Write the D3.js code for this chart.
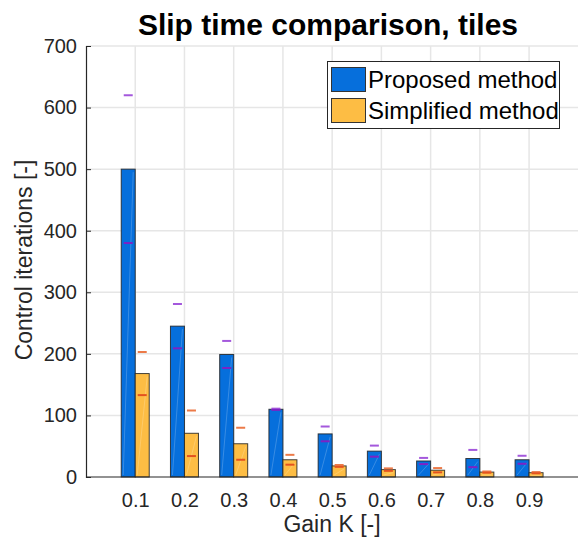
<!DOCTYPE html>
<html>
<head>
<meta charset="utf-8">
<script src="https://cdnjs.cloudflare.com/ajax/libs/d3/7.8.5/d3.min.js"></script>
<style>
  body { margin: 0; background: #fff; }
  svg text { font-family: Arial, "Liberation Sans", Helvetica, sans-serif; }
</style>
</head>
<body>
<script>
// gain values on the x axis
var gains = [0.1, 0.2, 0.3, 0.4, 0.5, 0.6, 0.7, 0.8, 0.9];
var gainLabels = ["0.1", "0.2", "0.3", "0.4", "0.5", "0.6", "0.7", "0.8", "0.9"];
// mean control iterations
var proposed = [500, 245, 199, 110, 70, 42, 26, 30, 28];
var simplified = [168, 71, 54, 28, 18, 12, 11, 8, 7];
// error (half range) drawn as small dashes
var proposedErr = [120, 36, 22, 1, 12, 9, 5, 14, 6.5];
var simplifiedErr = [35, 37, 26, 8, 1.5, 2, 3.5, 1, 1];
var yTicks = [0, 100, 200, 300, 400, 500, 600, 700];
var seriesNames = ["Proposed method", "Simplified method"];

var W = 578, H = 545;
var margin = { top: 46, right: 0, bottom: 68, left: 86 };
var plotW = 578.3 - margin.left, plotH = 477 - margin.top;

var svg = d3.select("body").append("svg")
    .attr("width", W)
    .attr("height", H);

var x = d3.scaleLinear().domain([0, 1]).range([margin.left, margin.left + plotW]);
var y = d3.scaleLinear().domain([0, 700]).range([margin.top + plotH, margin.top]);

var colors = ["#066fdc", "#fdbd44"];
var errColors = [["#a458dc", "#7d22c4"], ["#ec7a48", "#e4521f"]];
var barW = 14;

// grid
var grid = svg.append("g");
grid.selectAll("line.h")
    .data(yTicks.slice(1))
    .enter().append("line")
    .attr("x1", margin.left).attr("x2", W)
    .attr("y1", function(d) { return y(d); })
    .attr("y2", function(d) { return y(d); })
    .attr("stroke", "#e6e6e6").attr("stroke-width", 1.5);
grid.selectAll("line.v")
    .data(gains)
    .enter().append("line")
    .attr("x1", function(d) { return x(d); })
    .attr("x2", function(d) { return x(d); })
    .attr("y1", margin.top).attr("y2", y(0))
    .attr("stroke", "#e6e6e6").attr("stroke-width", 1.5);

// bars
var allSeries = [proposed, simplified];
var allErr = [proposedErr, simplifiedErr];
allSeries.forEach(function(vals, s) {
    var g = svg.append("g");
    var off = s === 0 ? -barW : 0;
    g.selectAll("rect")
        .data(vals)
        .enter().append("rect")
        .attr("x", function(d, i) { return x(gains[i]) + off; })
        .attr("y", function(d) { return y(d); })
        .attr("width", barW)
        .attr("height", function(d) { return y(0) - y(d); })
        .attr("fill", colors[s])
        .attr("stroke", "#222")
        .attr("stroke-width", 1)
        .attr("stroke-opacity", 0.85);
    // faint streaks inside the bars
    g.selectAll("line.streak")
        .data(vals)
        .enter().append("line")
        .attr("x1", function(d, i) { return x(gains[i]) + off + 2; })
        .attr("x2", function(d, i) { return x(gains[i]) + off + barW - 2; })
        .attr("y1", y(0) - 2)
        .attr("y2", function(d) { return y(d) + 3; })
        .attr("stroke", "#fff")
        .attr("stroke-opacity", 0.25)
        .attr("stroke-width", 0.8);
    // error dashes
    [1, -1].forEach(function(sign, k) {
        g.selectAll("line.err" + k)
            .data(vals)
            .enter().append("line")
            .attr("x1", function(d, i) { return x(gains[i]) + off + barW / 2 - 4.5; })
            .attr("x2", function(d, i) { return x(gains[i]) + off + barW / 2 + 4.5; })
            .attr("y1", function(d, i) { return y(d + sign * allErr[s][i]); })
            .attr("y2", function(d, i) { return y(d + sign * allErr[s][i]); })
            .attr("stroke", errColors[s][k])
            .attr("stroke-width", 2);
    });
});

// axes
var yAxis = svg.append("g")
    .attr("transform", "translate(" + margin.left + ",0)")
    .call(d3.axisLeft(y).tickValues(yTicks).tickSize(-5).tickPadding(9));
var xAxis = svg.append("g")
    .attr("transform", "translate(0," + y(0) + ")")
    .call(d3.axisBottom(x).tickValues(gains).tickFormat(function(d, i) { return gainLabels[i]; })
        .tickSize(0).tickPadding(16));
xAxis.select(".domain").attr("d", "M" + margin.left + ",0H" + W);
[yAxis, xAxis].forEach(function(a) {
    a.attr("font-family", null);
    a.select(".domain").attr("stroke", "#262626").attr("stroke-width", 1.2);
    a.selectAll(".tick line").attr("stroke", "#262626");
    a.selectAll("text").attr("font-size", "20px").attr("fill", "#262626");
});

// title and labels
svg.append("text")
    .attr("x", 328).attr("y", 34.5)
    .attr("text-anchor", "middle")
    .attr("font-size", "30px").attr("font-weight", "bold")
    .attr("fill", "#000")
    .text("Slip time comparison, tiles");
svg.append("text")
    .attr("x", 332).attr("y", 532)
    .attr("text-anchor", "middle")
    .attr("font-size", "23px").attr("fill", "#262626")
    .text("Gain K [-]");
svg.append("text")
    .attr("transform", "translate(32,260) rotate(-90)")
    .attr("text-anchor", "middle")
    .attr("font-size", "23px").attr("fill", "#262626")
    .text("Control iterations [-]");

// legend
var legend = svg.append("g");
legend.append("rect")
    .attr("x", 327.5).attr("y", 61.5).attr("width", 232).attr("height", 67)
    .attr("fill", "#fff").attr("stroke", "#262626").attr("stroke-width", 1);
seriesNames.forEach(function(name, i) {
    legend.append("rect")
        .attr("x", 331.5).attr("y", 67.5 + i * 31).attr("width", 34).attr("height", 24)
        .attr("fill", colors[i]).attr("stroke", "#333").attr("stroke-width", 1);
    legend.append("text")
        .attr("x", 368).attr("y", 88.3 + i * 31)
        .attr("font-size", "24px").attr("fill", "#000")
        .text(name);
});
</script>
</body>
</html>
